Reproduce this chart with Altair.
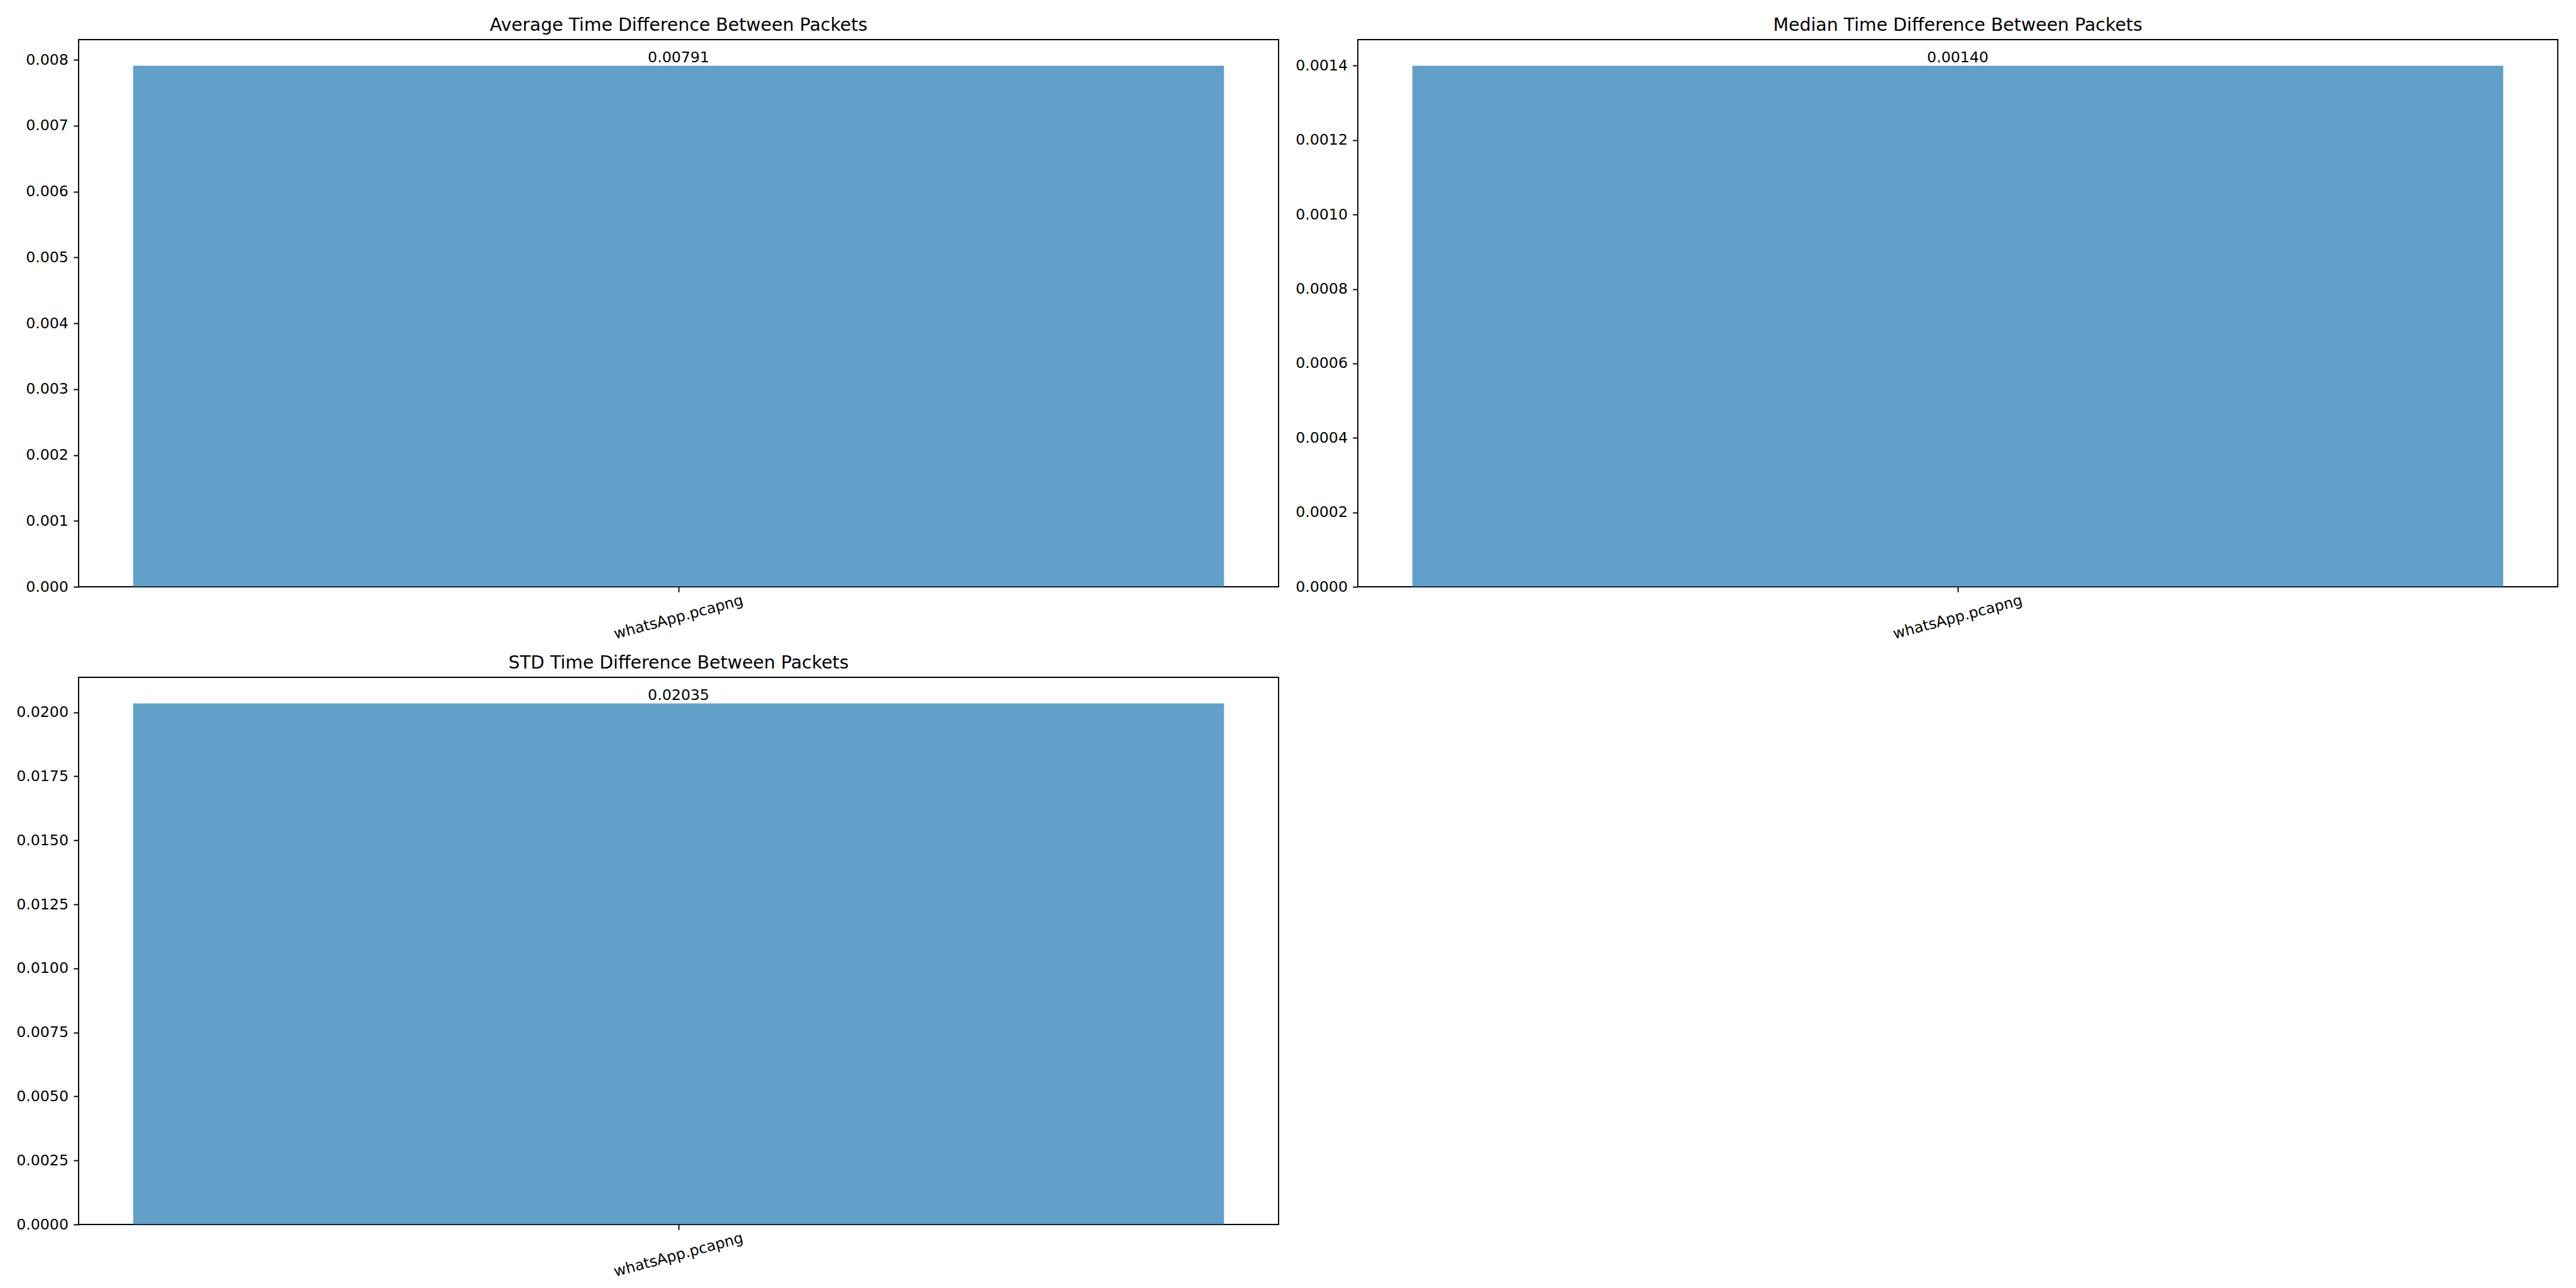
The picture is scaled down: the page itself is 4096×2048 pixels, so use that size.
import altair as alt
import pandas as pd

files = ["whatsApp.pcapng"]
avg_vals = [0.00791]
median_vals = [0.00140]
std_vals = [0.02035]

titles = [
    "Average Time Difference Between Packets",
    "Median Time Difference Between Packets",
    "STD Time Difference Between Packets",
]

avg_ticks = [0.000, 0.001, 0.002, 0.003, 0.004, 0.005, 0.006, 0.007, 0.008]
median_ticks = [0.0000, 0.0002, 0.0004, 0.0006, 0.0008, 0.0010, 0.0012, 0.0014]
std_ticks = [0.0000, 0.0025, 0.0050, 0.0075, 0.0100, 0.0125, 0.0150, 0.0175, 0.0200]
tick_formats = [".3f", ".4f", ".4f"]

S = 0.568
PX = 300 / 72 * S  # output px per point
W = 1908
H = 870
FONT = "DejaVu Sans"


def panel(vals, title, ticks, fmt):
    df = pd.DataFrame({"file": files, "value": vals,
                       "label": [f"{v:.5f}" for v in vals]})
    ymax = max(vals) * 1.05
    base = alt.Chart(df).encode(
        x=alt.X("file:N", title=None,
                scale=alt.Scale(paddingInner=0, paddingOuter=0.05),
                axis=alt.Axis(labelAngle=345, labelAlign="center",
                              labelBaseline="middle", labelLimit=1000,
                              minExtent=90, maxExtent=90)),
        y=alt.Y("value:Q", title=None,
                scale=alt.Scale(domain=[0, ymax], nice=False, zero=True),
                axis=alt.Axis(values=ticks, format=fmt,
                              minExtent=100, maxExtent=100)),
    )
    bars = base.mark_bar(color="#1f77b4", opacity=0.7)
    text = base.mark_text(baseline="alphabetic", align="center", dy=-10 * S,
                          fontSize=10 * PX, font=FONT, color="black").encode(
        text="label:N")
    return alt.layer(bars, text).properties(
        width=W, height=H,
        title=alt.TitleParams(title, font=FONT, fontSize=12 * PX,
                              fontWeight="normal", color="black",
                              anchor="middle", frame="group",
                              offset=8))


p1 = panel(avg_vals, titles[0], avg_ticks, tick_formats[0])
p2 = panel(median_vals, titles[1], median_ticks, tick_formats[1])
p3 = panel(std_vals, titles[2], std_ticks, tick_formats[2])

chart = alt.vconcat(
    alt.hconcat(p1, p2, spacing=24),
    p3,
    spacing=14,
).properties(
    background="white",
    padding={"left": 24, "top": 24, "right": 0, "bottom": 0},
).configure_view(
    stroke="black", strokeWidth=0.8 * PX, fill="white"
).configure_axis(
    domain=False,
    grid=False,
    tickColor="black",
    tickWidth=0.8 * PX,
    tickSize=3.5 * PX,
    labelPadding=3.5 * PX,
    labelFont=FONT,
    labelFontSize=10 * PX,
    labelColor="black",
).configure_axisY(
    labelPadding=3.5 * PX,
).configure_axisX(
    labelPadding=40,
)

chart.save("out.html", embed_options={"renderer": "svg", "actions": False})
